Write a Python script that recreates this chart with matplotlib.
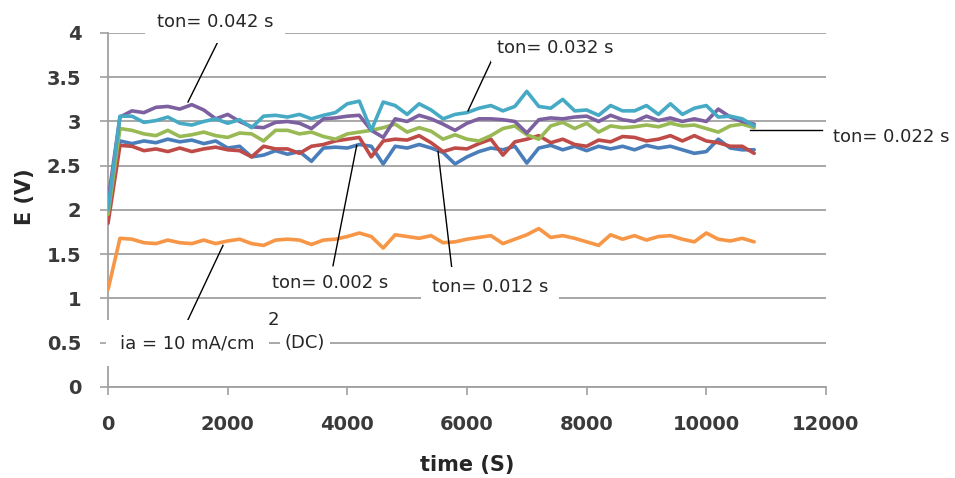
import matplotlib
matplotlib.use('Agg')
import matplotlib.pyplot as plt

# ---------------- data ----------------
time_s = list(range(0, 10801, 200))

e_ton_0002 = [2.00, 2.78, 2.75, 2.78, 2.76, 2.80, 2.77, 2.79, 2.75, 2.78,
              2.70, 2.72, 2.60, 2.62, 2.67, 2.63, 2.66, 2.55, 2.70, 2.71,
              2.70, 2.74, 2.72, 2.52, 2.72, 2.70, 2.74, 2.70, 2.65, 2.52,
              2.60, 2.66, 2.70, 2.68, 2.72, 2.53, 2.70, 2.73, 2.68, 2.72,
              2.67, 2.72, 2.69, 2.72, 2.68, 2.73, 2.70, 2.72, 2.68, 2.64,
              2.66, 2.80, 2.70, 2.68, 2.68]

e_ton_0012 = [1.85, 2.73, 2.72, 2.67, 2.69, 2.66, 2.70, 2.66, 2.69, 2.71,
              2.68, 2.67, 2.60, 2.72, 2.69, 2.69, 2.64, 2.72, 2.74, 2.78,
              2.80, 2.82, 2.60, 2.78, 2.80, 2.79, 2.84, 2.76, 2.66, 2.70,
              2.69, 2.75, 2.80, 2.62, 2.77, 2.80, 2.84, 2.76, 2.80, 2.74,
              2.72, 2.79, 2.77, 2.83, 2.82, 2.78, 2.80, 2.84, 2.78, 2.84,
              2.78, 2.76, 2.72, 2.72, 2.64]

e_ton_0022 = [1.95, 2.92, 2.90, 2.86, 2.84, 2.90, 2.83, 2.85, 2.88, 2.84,
              2.82, 2.87, 2.86, 2.78, 2.90, 2.90, 2.86, 2.88, 2.83, 2.80,
              2.86, 2.88, 2.90, 2.93, 2.97, 2.88, 2.93, 2.89, 2.80, 2.85,
              2.80, 2.78, 2.84, 2.92, 2.95, 2.85, 2.80, 2.95, 2.99, 2.92,
              2.98, 2.88, 2.95, 2.93, 2.94, 2.96, 2.94, 2.98, 2.95, 2.96,
              2.92, 2.88, 2.95, 2.97, 2.93]

e_ton_0042 = [2.10, 3.05, 3.12, 3.10, 3.16, 3.17, 3.14, 3.19, 3.13, 3.03,
              3.08, 3.00, 2.94, 2.93, 2.99, 3.00, 2.98, 2.92, 3.03, 3.04,
              3.06, 3.07, 2.90, 2.82, 3.03, 3.00, 3.07, 3.03, 2.97, 2.90,
              2.98, 3.03, 3.03, 3.02, 3.00, 2.87, 3.02, 3.04, 3.03, 3.05,
              3.06, 3.00, 3.07, 3.02, 3.00, 3.06, 3.01, 3.04, 3.00, 3.03,
              3.00, 3.14, 3.05, 3.00, 2.97]

e_ton_0032 = [2.00, 3.06, 3.06, 2.99, 3.01, 3.05, 2.98, 2.96, 3.00, 3.03,
              2.98, 3.02, 2.93, 3.06, 3.07, 3.05, 3.08, 3.03, 3.07, 3.10,
              3.20, 3.23, 2.90, 3.22, 3.18, 3.08, 3.20, 3.13, 3.03, 3.08,
              3.10, 3.15, 3.18, 3.12, 3.17, 3.34, 3.17, 3.15, 3.25, 3.12,
              3.13, 3.07, 3.18, 3.12, 3.12, 3.18, 3.08, 3.20, 3.08, 3.15,
              3.18, 3.05, 3.06, 3.03, 2.95]

e_dc = [1.10, 1.68, 1.67, 1.63, 1.62, 1.66, 1.63, 1.62, 1.66, 1.62,
        1.65, 1.67, 1.62, 1.60, 1.66, 1.67, 1.66, 1.61, 1.66, 1.67,
        1.70, 1.74, 1.70, 1.57, 1.72, 1.70, 1.68, 1.71, 1.63, 1.64,
        1.67, 1.69, 1.71, 1.62, 1.67, 1.72, 1.79, 1.69, 1.71, 1.68,
        1.64, 1.60, 1.72, 1.67, 1.71, 1.66, 1.70, 1.71, 1.67, 1.64,
        1.74, 1.67, 1.65, 1.68, 1.64]

series = [
    (e_ton_0002, '#4A7EBB'),
    (e_ton_0012, '#BE4B48'),
    (e_ton_0022, '#98B954'),
    (e_ton_0042, '#7D60A0'),
    (e_ton_0032, '#46AAC5'),
    (e_dc, '#F79646'),
]

x_ticks = [0, 2000, 4000, 6000, 8000, 10000, 12000]
y_ticks = [0, 0.5, 1, 1.5, 2, 2.5, 3, 3.5, 4]
y_tick_labels = ['0', '0.5', '1', '1.5', '2', '2.5', '3', '3.5', '4']

# ---------------- figure ----------------
fig = plt.figure(figsize=(9.55, 4.78), dpi=100)
ax = fig.add_axes([0.1131, 0.1904, 0.7518, 0.7406])

grid_c = '#A0A0A0'
for vals, col in series:
    ax.plot(time_s, vals, color=col, lw=2.6, solid_joinstyle='round',
            solid_capstyle='round', zorder=3)

ax.set_xlim(0, 12000)
ax.set_ylim(0, 4)
ax.set_xticks(x_ticks)
ax.set_yticks(y_ticks)
ax.set_yticklabels(y_tick_labels)
ax.grid(axis='y', color=grid_c, lw=1.3, zorder=1)
ax.set_axisbelow(True)
for s in ['top', 'right']:
    ax.spines[s].set_visible(False)
for s in ['left', 'bottom']:
    ax.spines[s].set_color(grid_c)
    ax.spines[s].set_linewidth(1.3)
ax.tick_params(axis='both', direction='out', length=6, width=1.2, color=grid_c,
               labelsize=14, labelcolor='#3A3A3A')
ax.tick_params(axis='y', pad=13)
ax.tick_params(axis='x', pad=14)
for lab in ax.get_xticklabels() + ax.get_yticklabels():
    lab.set_fontweight('bold')

fig.text(467 / 955, 1 - 465 / 478, 'time (S)', ha='center', va='center',
         fontsize=15, fontweight='bold', color='#262626')
fig.text(25 / 955, 1 - 197 / 478, 'E (V)', ha='center', va='center',
         rotation=90, fontsize=15, fontweight='bold', color='#262626')

# ---------------- annotations ----------------
lc = dict(color='black', lw=1.0, clip_on=False, zorder=4)
ax.plot([1337, 1872], [3.22, 3.95], **lc)
ax.plot([6017, 6418], [3.12, 3.70], **lc)
ax.plot([10730, 11934], [2.90, 2.90], **lc)
ax.plot([4157, 3760], [2.73, 1.37], **lc)
ax.plot([5516, 5750], [2.66, 1.32], **lc)
ax.plot([1922, 1337], [1.60, 0.76], **lc)

tc = '#262626'
def box(p):
    return dict(boxstyle='square,pad=%g' % p, fc='white', ec='none')

ax.text(1788, 4.12, 'ton= 0.042 s', ha='center', va='center', fontsize=13,
        color=tc, bbox=box(0.65), clip_on=False, zorder=6)
ax.text(7471, 3.83, 'ton= 0.032 s', ha='center', va='center', fontsize=13,
        color=tc, bbox=box(0.3), clip_on=False, zorder=6)
ax.text(12118, 2.82, 'ton= 0.022 s', ha='left', va='center', fontsize=13,
        color=tc, clip_on=False, zorder=6)
ax.text(3710, 1.175, 'ton= 0.002 s', ha='center', va='center', fontsize=13,
        color=tc, bbox=box(0.1), clip_on=False, zorder=6)
ax.text(6385, 1.13, 'ton= 0.012 s', ha='center', va='center', fontsize=13,
        color=tc, bbox=box(0.6), clip_on=False, zorder=6)
ax.text(200, 0.497, 'ia = 10 mA/cm', ha='left', va='center', fontsize=13,
        color=tc, bbox=box(0.8), clip_on=False, zorder=6)
ax.text(2758, 0.757, '2', ha='center', va='center', fontsize=13,
        color=tc, clip_on=False, zorder=6)
ax.text(2958, 0.497, '(DC)', ha='left', va='center', fontsize=13,
        color=tc, bbox=box(0.25), clip_on=False, zorder=6)

fig.savefig('out.png', dpi=100, facecolor='white')
